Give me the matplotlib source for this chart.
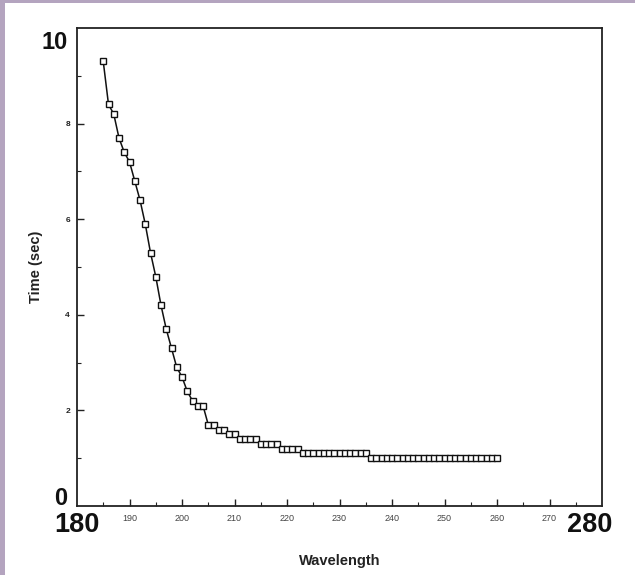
import matplotlib
matplotlib.use("Agg")
import matplotlib.pyplot as plt
from matplotlib.patches import Rectangle

wavelength = list(range(185, 261))
time_sec = ([9.3, 8.4, 8.2, 7.7, 7.4, 7.2, 6.8, 6.4, 5.9, 5.3,
             4.8, 4.2, 3.7, 3.3, 2.9, 2.7, 2.4, 2.2, 2.1, 2.1,
             1.7, 1.7, 1.6, 1.6, 1.5, 1.5,
             1.4, 1.4, 1.4, 1.4,
             1.3, 1.3, 1.3, 1.3,
             1.2, 1.2, 1.2, 1.2]
            + [1.1] * 13 + [1.0] * 25)

x_major = [190, 200, 210, 220, 230, 240, 250, 260, 270]
x_minor = [185, 195, 205, 215, 225, 235, 245, 255, 265, 275]
y_major = [2, 4, 6, 8]
y_minor = [1, 3, 5, 7, 9]
x_ends = [180, 280]
y_ends = [0, 10]

FAM = ['Liberation Sans Narrow', 'Liberation Sans', 'DejaVu Sans']
plt.rcParams['font.family'] = FAM

fig = plt.figure(figsize=(6.35, 5.75), dpi=100)
fig.patch.set_facecolor('white')
purple = '#b4a4bf'
fig.patches.append(Rectangle((0, 0), 5 / 635, 1, transform=fig.transFigure,
                             facecolor=purple, edgecolor='none', zorder=-1))
fig.patches.append(Rectangle((0, 1 - 3 / 575), 1, 3 / 575, transform=fig.transFigure,
                             facecolor=purple, edgecolor='none', zorder=-1))

ax = fig.add_axes([77 / 635, 1 - 506 / 575, 525 / 635, 478 / 575])
ax.plot(wavelength, time_sec, color='#111111', lw=1.1, marker='s', ms=4.4,
        mfc='white', mec='#111111', mew=1.0)
ax.set_xlim(x_ends[0], x_ends[1])
ax.set_ylim(y_ends[0], y_ends[1])

for s in ax.spines.values():
    s.set_linewidth(1.3)
    s.set_color('#222222')

ax.set_xticks(x_major)
ax.set_xticklabels([str(v) for v in x_major], fontsize=6.5, color='#444444')
ax.set_xticks(x_minor, minor=True)
ax.set_yticks(y_major)
ax.set_yticklabels([str(v) for v in y_major], fontsize=6, fontweight='bold', color='#222222')
ax.set_yticks(y_minor, minor=True)
ax.tick_params(axis='both', which='major', direction='in', length=5, width=1.0,
               color='#222222')
ax.tick_params(axis='both', which='minor', direction='in', length=3, width=0.8,
               color='#222222')
ax.tick_params(axis='x', which='major', pad=6)
ax.tick_params(axis='y', which='major', pad=5)

# big end labels
ax.annotate(str(x_ends[0]), xy=(x_ends[0], 0), xycoords=('data', 'axes fraction'),
            xytext=(0, -4), textcoords='offset points', ha='center', va='top',
            fontsize=19.5, fontweight='bold', color='#111111')
ax.annotate(str(x_ends[1]), xy=(x_ends[1], 0), xycoords=('data', 'axes fraction'),
            xytext=(-9, -4), textcoords='offset points', ha='center', va='top',
            fontsize=19.5, fontweight='bold', color='#111111')
ax.annotate(str(y_ends[1]), xy=(0, y_ends[1]), xycoords=('axes fraction', 'data'),
            xytext=(-7, -2), textcoords='offset points', ha='right', va='top',
            fontsize=17, fontweight='bold', color='#111111')
ax.annotate(str(y_ends[0]), xy=(0, y_ends[0]), xycoords=('axes fraction', 'data'),
            xytext=(-7, 1), textcoords='offset points', ha='right', va='baseline',
            fontsize=17, fontweight='bold', color='#111111')

ax.set_xlabel('Wavelength', fontsize=10.5, fontweight='bold', color='#222222', labelpad=22,
              family=['Liberation Sans', 'DejaVu Sans'])
ax.set_ylabel('Time (sec)', fontsize=10.5, fontweight='bold', color='#222222', labelpad=16,
              family=['Liberation Sans', 'DejaVu Sans'])

fig.savefig('out.png', dpi=100, facecolor='white')
